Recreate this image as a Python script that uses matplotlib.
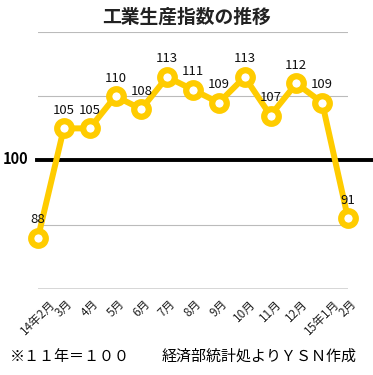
import matplotlib.pyplot as plt

plt.rcParams['font.family'] = ['Noto Sans CJK JP', 'DejaVu Sans']

months = ['14年2月', '3月', '4月', '5月', '6月', '7月', '8月', '9月',
          '10月', '11月', '12月', '15年1月', '2月']
index = [88, 105, 105, 110, 108, 113, 111, 109, 113, 107, 112, 109, 91]
yellow = '#FFCC00'

fig = plt.figure(figsize=(3.73, 3.75), dpi=100)
ax = fig.add_axes([38/373, 1 - 289/375, 310/373, 257/375])

x = list(range(len(index)))
ax.set_xlim(0, len(index) - 1)
ax.set_ylim(80, 120)

# grid
for g in [90, 110, 120]:
    ax.axhline(g, color='#bbbbbb', lw=0.8, zorder=1)
ax.axhline(80, color='#333333', lw=1.0, zorder=1)
ax.axhline(100, xmin=-0.003, xmax=1.09, color='black', lw=2.8,
           clip_on=False, zorder=2)

ax.plot(x, index, color=yellow, lw=4.3, marker='o', ms=10.5,
        mfc='white', mec=yellow, mew=4.5, clip_on=False, zorder=3)

for xi, v in zip(x, index):
    ax.annotate(str(v), (xi, v), xytext=(0, 13), textcoords='offset points',
                ha='center', va='center', fontsize=9.5, color='#111111')

for s in ax.spines.values():
    s.set_visible(False)
ax.tick_params(length=0, pad=6)
ax.set_yticks([])
ax.set_xticks(x)
ax.set_xticklabels(months, rotation=45, ha='center', va='top', fontsize=8.5,
                   color='#222222')

fig.text(28/373, 1 - 159/375, '100', ha='right', va='center',
         fontsize=10.5, fontweight='bold')
fig.text(0.5, 1 - 17/375, '工業生産指数の推移', ha='center', va='center',
         fontsize=13.5, fontweight='bold', color='#222222')
fig.text(10/373, 1 - 357/375, '※１１年＝１００', ha='left', va='center',
         fontsize=10.8)
fig.text(357/373, 1 - 357/375, '経済部統計処よりＹＳＮ作成', ha='right',
         va='center', fontsize=10.8)

fig.savefig('out.png', dpi=100)
